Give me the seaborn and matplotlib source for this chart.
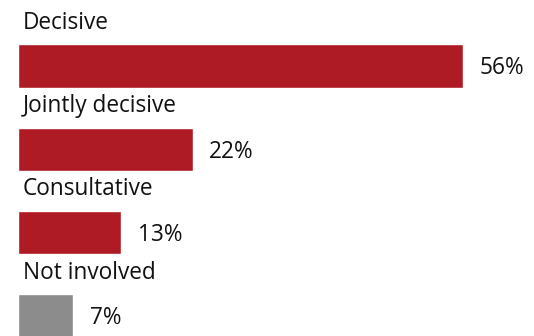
import matplotlib
matplotlib.use("Agg")
import matplotlib.pyplot as plt
import seaborn as sns
import pandas as pd

categories = ["Decisive", "Jointly decisive", "Consultative", "Not involved"]
values = [56, 22, 13, 7]
value_labels = ["56%", "22%", "13%", "7%"]
bar_colors = ["#AF1B25", "#AF1B25", "#AF1B25", "#8C8C8C"]

sns.set_theme(style="white")
plt.rcParams["font.family"] = ["Open Sans", "DejaVu Sans"]

df = pd.DataFrame({"category": categories, "value": values})

fig = plt.figure(figsize=(5.34, 3.36), dpi=100)
ax = fig.add_axes([0, 0, 1, 1])
sns.barplot(data=df, x="value", y="category", hue="category",
            palette=dict(zip(categories, bar_colors)), legend=False,
            width=0.52, ax=ax, orient="h", saturation=1)

ax.set_xlim(-2.2, 64.9)
ax.set_ylim(3.24, -0.792)

for i, (v, lab, cat) in enumerate(zip(values, value_labels, categories)):
    ax.text(v + 2.1, i + 0.03, lab, va="center", ha="left", fontsize=16.3, color="#111111")
    ax.text(0.7, i - 0.52, cat, va="center", ha="left", fontsize=16.3, color="#111111")

ax.set_axis_off()
fig.savefig("out.png", dpi=100)
